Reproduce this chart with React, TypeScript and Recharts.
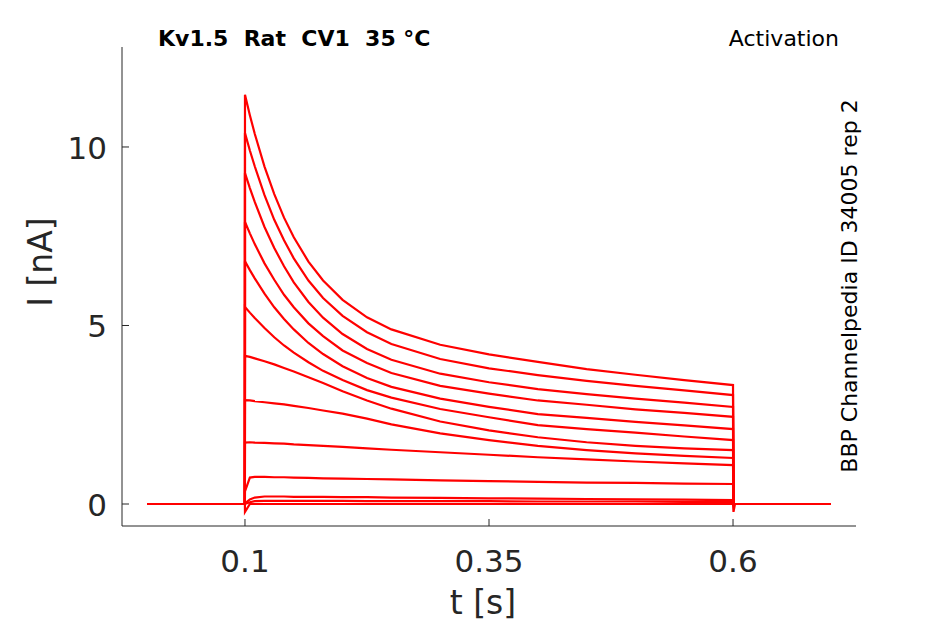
import React from 'react';
import { LineChart, Line, XAxis, YAxis } from 'recharts';

// sample times [s]
const times = [
  0, 0.0999, 0.1, 0.105, 0.11, 0.12, 0.13, 0.14, 0.15, 0.165, 0.18, 0.2,
  0.225, 0.25, 0.3, 0.35, 0.4, 0.45, 0.5, 0.55, 0.6, 0.6005, 0.602, 0.7,
];

// currents [nA], one array per voltage step (largest first)
const step1 = [0, 0, 11.46, 10.89, 10.37, 9.45, 8.68, 8.02, 7.47, 6.79, 6.26, 5.72, 5.23, 4.89, 4.46, 4.19, 3.98, 3.78, 3.62, 3.47, 3.33, 0, 0, 0];
const step2 = [0, 0, 10.39, 9.9, 9.46, 8.65, 7.96, 7.39, 6.88, 6.26, 5.77, 5.27, 4.81, 4.48, 4.06, 3.8, 3.61, 3.45, 3.31, 3.18, 3.05, 0, 0, 0];
const step3 = [0, 0, 9.27, 8.85, 8.46, 7.76, 7.17, 6.66, 6.21, 5.66, 5.22, 4.76, 4.34, 4.04, 3.65, 3.41, 3.22, 3.08, 2.95, 2.84, 2.72, 0, 0, 0];
const step4 = [0, 0, 7.9, 7.58, 7.28, 6.74, 6.28, 5.86, 5.51, 5.06, 4.7, 4.3, 3.95, 3.67, 3.31, 3.09, 2.9, 2.78, 2.65, 2.55, 2.44, 0, 0, 0];
const step5 = [0, 0, 6.8, 6.55, 6.32, 5.89, 5.51, 5.18, 4.89, 4.51, 4.2, 3.86, 3.53, 3.28, 2.95, 2.72, 2.52, 2.41, 2.3, 2.2, 2.1, 0, 0, 0];
const step6 = [0, 0, 5.52, 5.36, 5.21, 4.93, 4.67, 4.44, 4.24, 3.97, 3.73, 3.47, 3.19, 2.98, 2.66, 2.43, 2.21, 2.1, 2.0, 1.89, 1.79, 0, 0, 0];
const step7 = [0, 0, 4.15, 4.12, 4.08, 4.0, 3.91, 3.81, 3.71, 3.55, 3.39, 3.16, 2.9, 2.67, 2.31, 2.06, 1.87, 1.73, 1.63, 1.56, 1.51, 0, 0, 0];
const step8 = [0, 0, 2.91, 2.9, 2.88, 2.85, 2.82, 2.79, 2.75, 2.69, 2.62, 2.53, 2.39, 2.23, 1.98, 1.79, 1.63, 1.51, 1.42, 1.35, 1.29, 0, 0, 0];
const step9 = [0, 0, 1.72, 1.73, 1.72, 1.71, 1.7, 1.69, 1.67, 1.65, 1.63, 1.6, 1.56, 1.52, 1.45, 1.38, 1.31, 1.25, 1.19, 1.14, 1.09, 0, 0, 0];
const step10 = [0, 0, 0.35, 0.74, 0.76, 0.76, 0.75, 0.75, 0.74, 0.73, 0.72, 0.71, 0.7, 0.69, 0.66, 0.64, 0.62, 0.6, 0.59, 0.57, 0.56, 0, 0, 0];
const step11 = [0, 0, 0.02, 0.13, 0.18, 0.21, 0.21, 0.21, 0.2, 0.2, 0.2, 0.19, 0.19, 0.18, 0.17, 0.16, 0.15, 0.14, 0.13, 0.12, 0.11, 0, 0, 0];
const step12 = [0, 0, 0, 0.05, 0.08, 0.09, 0.09, 0.09, 0.09, 0.09, 0.09, 0.09, 0.08, 0.08, 0.08, 0.08, 0.07, 0.07, 0.07, 0.06, 0.06, 0, 0, 0];
const step13 = [0, 0, -0.22, 0, 0, 0, 0, 0, 0, 0, 0, 0, 0, 0, 0, 0, 0, 0, 0, 0, 0, -0.22, 0, 0];

const steps = [step1, step2, step3, step4, step5, step6, step7, step8, step9, step10, step11, step12, step13];

const xTicks = [0.1, 0.35, 0.6];
const yTicks = [0, 5, 10];

const chartData = times.map((t, i) => {
  const row: Record<string, number> = { t };
  steps.forEach((s, k) => {
    row[`s${k}`] = s[i];
  });
  return row;
});

const FONT = '"DejaVu Sans", Verdana, sans-serif';
const INK = '#262626';

function XTick(props: any) {
  const { x, y, payload } = props;
  return (
    <g>
      <line x1={x} x2={x} y1={y} y2={y - 7} stroke={INK} strokeWidth={1} />
      <text x={x} y={y + 46} textAnchor="middle" fill={INK} fontSize={31} fontFamily={FONT}>
        {payload.value}
      </text>
    </g>
  );
}

function YTick(props: any) {
  const { x, y, payload } = props;
  return (
    <g>
      <line x1={x} x2={x + 7} y1={y} y2={y} stroke={INK} strokeWidth={1} />
      <text x={x - 15} y={y + 12} textAnchor="end" fill={INK} fontSize={31} fontFamily={FONT}>
        {payload.value}
      </text>
    </g>
  );
}

export default function App() {
  return (
    <div style={{ position: 'absolute', left: 0, top: 0, width: 945, height: 624, background: '#fff' }}>
      <LineChart
        width={945}
        height={624}
        data={chartData}
        margin={{ top: 47, right: 89, bottom: 0, left: 0 }}
      >
        <XAxis
          dataKey="t"
          type="number"
          domain={[-0.026, 0.726]}
          ticks={xTicks}
          interval={0}
          allowDataOverflow
          height={98}
          tickSize={0}
          tickMargin={0}
          tickLine={false}
          axisLine={{ stroke: INK, strokeWidth: 1 }}
          tick={<XTick />}
        />
        <YAxis
          type="number"
          domain={[-0.616, 12.8]}
          ticks={yTicks}
          interval={0}
          allowDataOverflow
          width={122}
          tickSize={0}
          tickMargin={0}
          tickLine={false}
          axisLine={{ stroke: INK, strokeWidth: 1 }}
          tick={<YTick />}
        />
        {steps.map((_, k) => (
          <Line
            key={k}
            type="linear"
            dataKey={`s${k}`}
            stroke="#ff0000"
            strokeWidth={2.2}
            dot={false}
            activeDot={false}
            isAnimationActive={false}
          />
        ))}
      </LineChart>
      <svg
        width={945}
        height={624}
        style={{ position: 'absolute', left: 0, top: 0, pointerEvents: 'none' }}
      >
        <text x={158} y={46} fontSize={22} fontWeight="bold" fontFamily={FONT} fill="#000" style={{ whiteSpace: 'pre' }}>
          {'Kv1.5  Rat  CV1  35 °C'}
        </text>
        <text x={839} y={46} fontSize={22} textAnchor="end" fontFamily={FONT} fill="#000">
          Activation
        </text>
        <text
          x={857}
          y={286}
          fontSize={22}
          textAnchor="middle"
          fontFamily={FONT}
          fill="#000"
          transform="rotate(-90 857 286)"
        >
          BBP Channelpedia ID 34005 rep 2
        </text>
        <text
          x={52}
          y={262}
          fontSize={33}
          textAnchor="middle"
          fontFamily={FONT}
          fill={INK}
          transform="rotate(-90 52 262)"
        >
          I [nA]
        </text>
        <text x={483} y={614} fontSize={33} textAnchor="middle" fontFamily={FONT} fill={INK}>
          t [s]
        </text>
      </svg>
    </div>
  );
}
